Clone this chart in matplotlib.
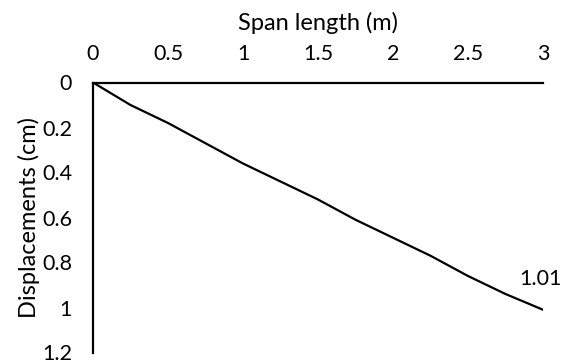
import matplotlib
matplotlib.use("Agg")
import matplotlib.pyplot as plt

span = [0, 0.25, 0.5, 0.75, 1.0, 1.25, 1.5, 1.75, 2.0, 2.25, 2.5, 2.75, 3.0]
displacement = [0, 0.10, 0.18, 0.27, 0.36, 0.44, 0.52, 0.61, 0.69, 0.77, 0.86, 0.94, 1.01]
x_ticks = [0, 0.5, 1, 1.5, 2, 2.5, 3]
x_tick_labels = ["0", "0.5", "1", "1.5", "2", "2.5", "3"]
y_ticks = [0, 0.2, 0.4, 0.6, 0.8, 1.0, 1.2]
y_tick_labels = ["0", "0.2", "0.4", "0.6", "0.8", "1", "1.2"]
end_label = "1.01"

plt.rcParams['font.family'] = ['Lato', 'DejaVu Sans']

fig = plt.figure(figsize=(5.64, 3.64), dpi=100)
ax = fig.add_axes([93/564, 1 - 352.5/364, 450/564, 270/364])

ax.plot(span, displacement, color='black', lw=1.6, solid_joinstyle='round')

ax.set_xlim(0, 3)
ax.set_ylim(1.2, 0)
ax.xaxis.tick_top()
ax.xaxis.set_label_position('top')
ax.set_xticks(x_ticks)
ax.set_xticklabels(x_tick_labels)
ax.set_yticks(y_ticks)
ax.set_yticklabels(y_tick_labels)
ax.tick_params(axis='both', length=0, labelsize=15.5)
ax.tick_params(axis='x', pad=13.5)
ax.tick_params(axis='y', pad=15)

for s in ['right', 'bottom']:
    ax.spines[s].set_visible(False)
for s in ['left', 'top']:
    ax.spines[s].set_linewidth(1.6)
    ax.spines[s].set_color('black')

ax.set_xlabel("Span length (m)", fontsize=17)
ax.xaxis.set_label_coords(0.5, 1 + (82.5 - 30) / 270)
ax.set_ylabel("Displacements (cm)", fontsize=17)
ax.yaxis.set_label_coords(-(93 - 40) / 450, 0.5)

ax.annotate(end_label, xy=(span[-1], displacement[-1]), xytext=(-2, 22),
            textcoords='offset points', ha='center', va='center', fontsize=15.5)

fig.savefig("out.png", dpi=100)
